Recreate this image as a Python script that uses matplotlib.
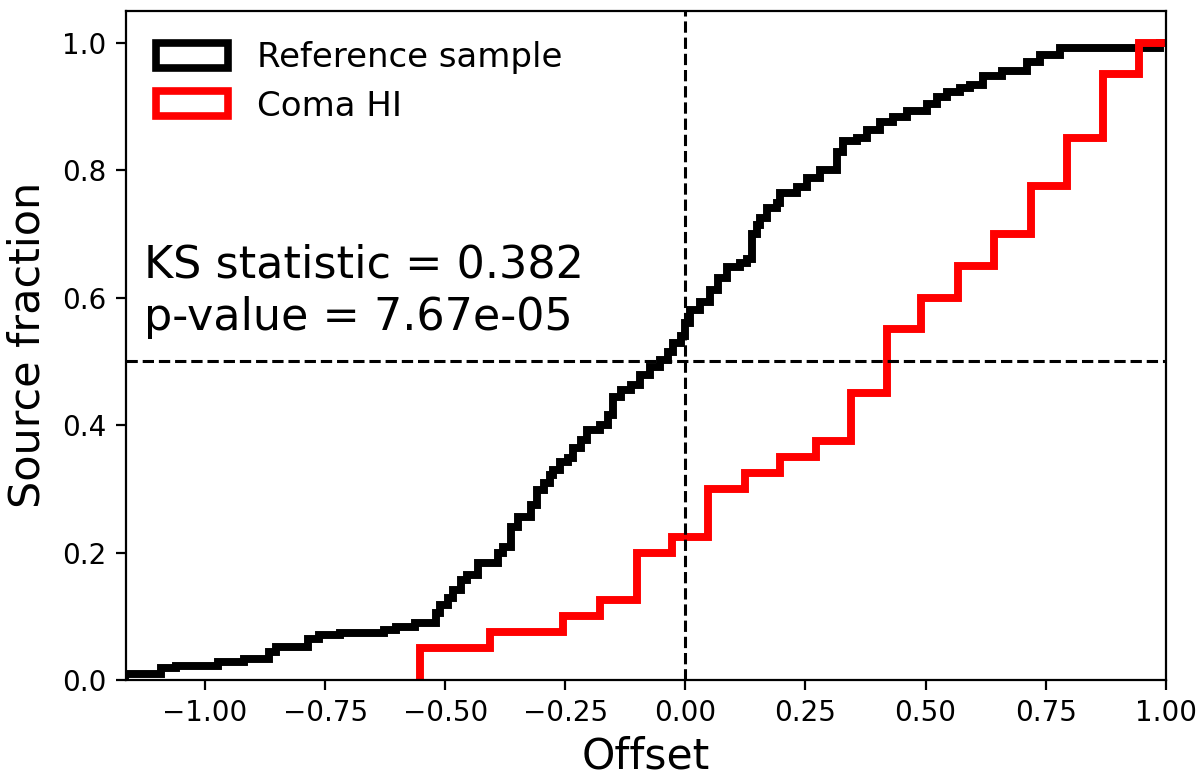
import numpy as np
import matplotlib
matplotlib.use("Agg")
import matplotlib.pyplot as plt
from matplotlib.patches import Patch

# cumulative fraction of the reference sample
ref_edges = [-1.167, -1.092, -1.061, -0.972, -0.919, -0.867, -0.853, -0.786, -0.763,
             -0.718, -0.628, -0.603, -0.562, -0.520, -0.510, -0.495, -0.483, -0.468,
             -0.454, -0.431, -0.391, -0.379, -0.364, -0.349, -0.322, -0.308, -0.295,
             -0.281, -0.275, -0.260, -0.245, -0.233, -0.218, -0.204, -0.177, -0.162,
             -0.150, -0.135, -0.114, -0.094, -0.073, -0.052, -0.037, -0.025, -0.010,
             0.000, 0.010, 0.031, 0.052, 0.067, 0.087, 0.114, 0.129, 0.139, 0.150,
             0.156, 0.171, 0.191, 0.198, 0.233, 0.254, 0.281, 0.316, 0.329, 0.358,
             0.379, 0.406, 0.433, 0.462, 0.503, 0.524, 0.545, 0.572, 0.593, 0.620,
             0.659, 0.711, 0.739, 0.780, 0.988, 1.030]
ref_frac = [0.009, 0.019, 0.022, 0.029, 0.033, 0.044, 0.052, 0.064, 0.071,
            0.074, 0.079, 0.083, 0.089, 0.105, 0.118, 0.129, 0.141, 0.157,
            0.165, 0.184, 0.199, 0.209, 0.240, 0.256, 0.275, 0.298, 0.309,
            0.322, 0.330, 0.342, 0.348, 0.364, 0.377, 0.392, 0.400, 0.416,
            0.444, 0.455, 0.463, 0.479, 0.491, 0.502, 0.515, 0.529, 0.540,
            0.560, 0.580, 0.593, 0.612, 0.631, 0.648, 0.654, 0.660, 0.700, 0.714,
            0.725, 0.741, 0.749, 0.764, 0.774, 0.788, 0.800, 0.829, 0.845, 0.851,
            0.863, 0.876, 0.884, 0.892, 0.903, 0.914, 0.922, 0.928, 0.933, 0.947,
            0.955, 0.969, 0.981, 0.991, 1.000]

# Coma HI cumulative fraction (40 sources, bins of ~0.075)
coma_edges = [-0.552, -0.479, -0.406, -0.330, -0.254, -0.177, -0.100, -0.027, 0.048,
              0.125, 0.198, 0.271, 0.344, 0.419, 0.490, 0.567, 0.642, 0.719, 0.794,
              0.869, 0.944, 1.020]
coma_frac = [0.05, 0.05, 0.075, 0.075, 0.1, 0.125, 0.2, 0.225, 0.3, 0.325, 0.35,
             0.375, 0.45, 0.55, 0.6, 0.65, 0.7, 0.775, 0.85, 0.95, 1.0]

ks_stat = 0.382
p_value = 7.67e-05

plt.rcParams['axes.linewidth'] = 1.6
plt.rcParams['xtick.major.size'] = 7
plt.rcParams['ytick.major.size'] = 7
plt.rcParams['xtick.major.width'] = 1.6
plt.rcParams['ytick.major.width'] = 1.6
plt.rcParams['xtick.major.pad'] = 7
plt.rcParams['ytick.major.pad'] = 7

fig = plt.figure(figsize=(12, 7.81), dpi=100)
ax = fig.add_axes([0.1048, 0.1293, 0.8666, 0.857])

ax.stairs(ref_frac, ref_edges, baseline=0, color='black', lw=5.7)
ax.stairs(coma_frac, coma_edges, baseline=0, color='red', lw=5.7)

ax.axvline(0, color='black', ls='--', lw=2.2)
ax.axhline(0.5, color='black', ls='--', lw=2.2)

ax.text(0.018, 0.632, f"KS statistic = {ks_stat:.3f}", fontsize=32,
        transform=ax.get_yaxis_transform(), va='baseline')
ax.text(0.018, 0.549, f"p-value = {p_value:.2e}", fontsize=32,
        transform=ax.get_yaxis_transform(), va='baseline')

ax.set_xlim(-1.165, 1.0)
ax.set_ylim(0, 1.05)
ax.set_xticks(np.arange(-1.0, 1.01, 0.25))
ax.set_yticks(np.arange(0, 1.01, 0.2))
ax.tick_params(labelsize=20)
ax.set_xlabel("Offset", fontsize=30.5, labelpad=6)
ax.set_ylabel("Source fraction", fontsize=31, labelpad=10)

handles = [Patch(facecolor='none', edgecolor='black', lw=5.5, label='Reference sample'),
           Patch(facecolor='none', edgecolor='red', lw=5.5, label='Coma HI')]
ax.legend(handles=handles, loc='upper left', frameon=False, fontsize=24.5,
          handlelength=2.1, handleheight=0.75, handletextpad=0.85, labelspacing=0.45)

fig.savefig("out.png", dpi=100)
